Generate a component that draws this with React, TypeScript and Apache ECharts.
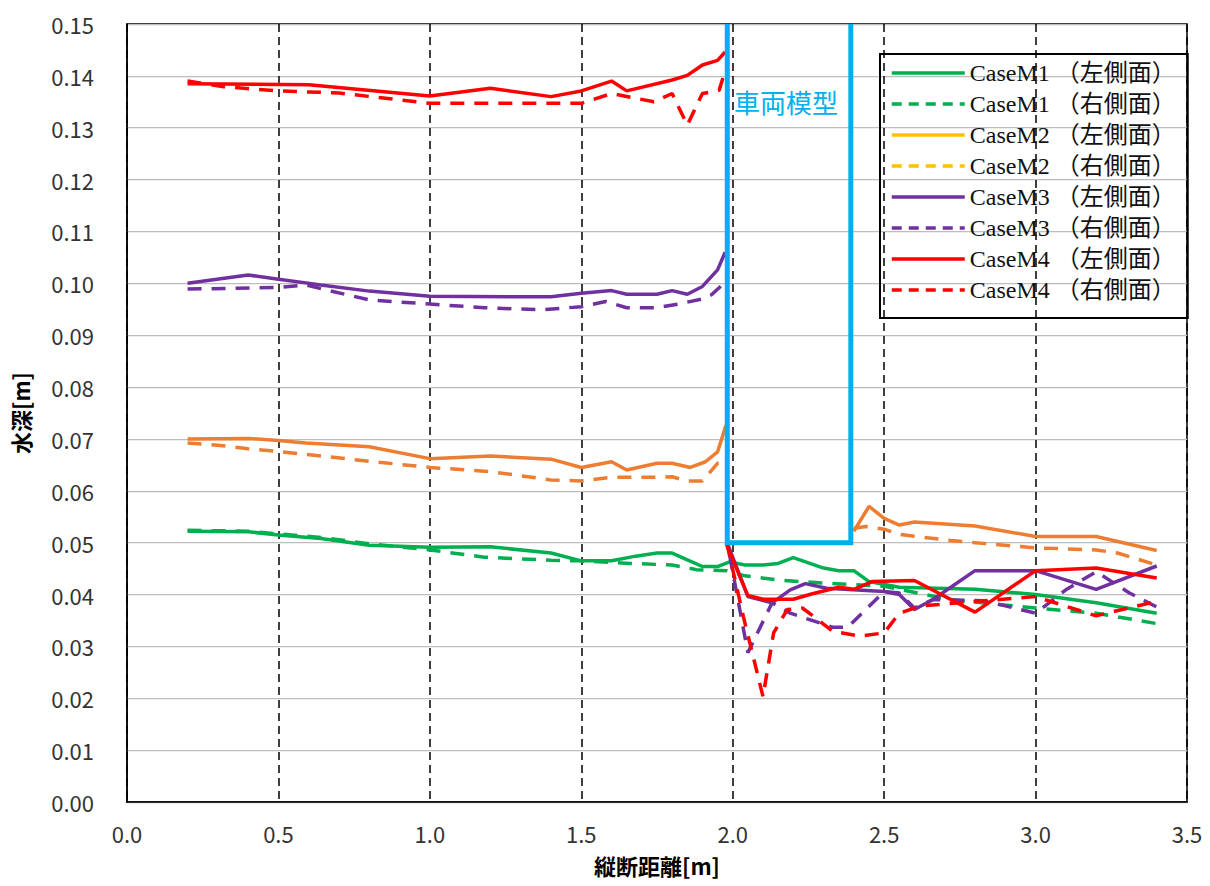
import React, { useEffect, useRef } from "react";
import * as echarts from "echarts";

// ---- data ----
const xTicks = [0, 0.5, 1.0, 1.5, 2.0, 2.5, 3.0, 3.5];

const seriesNames = [
  "CaseM1 （左側面）",
  "CaseM1 （右側面）",
  "CaseM2 （左側面）",
  "CaseM2 （右側面）",
  "CaseM3 （左側面）",
  "CaseM3 （右側面）",
  "CaseM4 （左側面）",
  "CaseM4 （右側面）",
];

const m1LeftX = [0.2, 0.4, 0.5, 0.64, 0.8, 1.0, 1.2, 1.4, 1.5, 1.6, 1.68, 1.75, 1.8, 1.85, 1.9, 1.95, 1.99, 2.04, 2.1, 2.15, 2.2, 2.3, 2.35, 2.4, 2.45, 2.55, 2.8, 3.0, 3.2, 3.4];
const m1LeftY = [0.0522, 0.0521, 0.0515, 0.0508, 0.0495, 0.0491, 0.0492, 0.048, 0.0465, 0.0465, 0.0474, 0.048, 0.048, 0.0467, 0.0454, 0.0454, 0.0463, 0.0457, 0.0457, 0.046, 0.0471, 0.0451, 0.0446, 0.0446, 0.0425, 0.0414, 0.041, 0.04, 0.0384, 0.0364];

const m1RightX = [0.2, 0.4, 0.64, 0.8, 1.0, 1.18, 1.4, 1.5, 1.66, 1.8, 1.88, 1.98, 2.04, 2.15, 2.3, 2.5, 2.72, 3.0, 3.2, 3.4];
const m1RightY = [0.0524, 0.0522, 0.051, 0.0498, 0.0486, 0.0472, 0.0466, 0.0465, 0.046, 0.0457, 0.0448, 0.0446, 0.0436, 0.0428, 0.0422, 0.0416, 0.039, 0.0374, 0.0364, 0.0344];

const m2LeftX = [0.2, 0.4, 0.5, 0.59, 0.8, 1.0, 1.2, 1.4, 1.5, 1.6, 1.65, 1.75, 1.8, 1.86, 1.91, 1.95, 1.978, 1.99, 2.4, 2.45, 2.5, 2.55, 2.6, 2.8, 3.0, 3.2, 3.4];
const m2LeftY = [0.07, 0.0701, 0.0697, 0.0692, 0.0685, 0.0662, 0.0667, 0.0661, 0.0645, 0.0656, 0.064, 0.0653, 0.0653, 0.0645, 0.0656, 0.0675, 0.0727, null, 0.0522, 0.057, 0.0547, 0.0534, 0.054, 0.0532, 0.0512, 0.0512, 0.0485];

const m2RightX = [0.2, 0.3, 0.4, 0.5, 0.8, 1.0, 1.2, 1.4, 1.5, 1.6, 1.75, 1.8, 1.85, 1.9, 1.95, 1.975, 1.99, 2.4, 2.44, 2.5, 2.55, 2.72, 3.0, 3.2, 3.27, 3.4];
const m2RightY = [0.0692, 0.0688, 0.0681, 0.0676, 0.0657, 0.0645, 0.0637, 0.0621, 0.0619, 0.0626, 0.0626, 0.0627, 0.0619, 0.0619, 0.0653, 0.0656, null, 0.0528, 0.0531, 0.0526, 0.0516, 0.0504, 0.049, 0.0486, 0.048, 0.0457];

const m3LeftX = [0.2, 0.4, 0.5, 0.64, 0.8, 1.0, 1.4, 1.5, 1.6, 1.65, 1.75, 1.8, 1.85, 1.9, 1.95, 1.975, 1.98, 1.985, 2.05, 2.13, 2.19, 2.24, 2.31, 2.5, 2.55, 2.6, 2.66, 2.8, 3.0, 3.2, 3.4];
const m3LeftY = [0.1, 0.1016, 0.1008, 0.0997, 0.0985, 0.0975, 0.0974, 0.0981, 0.0986, 0.0979, 0.0979, 0.0986, 0.0979, 0.0994, 0.1026, 0.106, null, 0.0495, 0.0396, 0.0384, 0.0409, 0.0421, 0.0412, 0.0406, 0.04, 0.0371, 0.039, 0.0446, 0.0446, 0.041, 0.0455];

const m3RightX = [0.2, 0.5, 0.59, 0.66, 0.8, 1.0, 1.18, 1.37, 1.5, 1.58, 1.65, 1.75, 1.82, 1.9, 1.93, 1.975, 1.98, 1.99, 2.05, 2.13, 2.19, 2.33, 2.38, 2.5, 2.55, 2.6, 2.66, 2.83, 3.0, 3.1, 3.2, 3.31, 3.4];
const m3RightY = [0.0989, 0.0992, 0.0997, 0.0987, 0.0968, 0.096, 0.0953, 0.0949, 0.0955, 0.0965, 0.0953, 0.0953, 0.096, 0.097, 0.0978, 0.1002, null, 0.0475, 0.0288, 0.0384, 0.0364, 0.0337, 0.0337, 0.0406, 0.0403, 0.0374, 0.039, 0.0388, 0.0364, 0.0409, 0.0444, 0.0403, 0.0376];

const m4LeftX = [0.2, 0.6, 1.0, 1.2, 1.4, 1.5, 1.6, 1.65, 1.8, 1.85, 1.9, 1.95, 1.975, 1.978, 1.98, 2.05, 2.1, 2.2, 2.26, 2.35, 2.4, 2.46, 2.6, 2.8, 3.0, 3.2, 3.4];
const m4LeftY = [0.1385, 0.1383, 0.1361, 0.1376, 0.136, 0.1371, 0.139, 0.1371, 0.1392, 0.1401, 0.1421, 0.143, 0.1446, null, 0.0496, 0.0398, 0.0391, 0.0391, 0.0401, 0.0414, 0.041, 0.0425, 0.0427, 0.0366, 0.0446, 0.0451, 0.0432];

const m4RightX = [0.2, 0.32, 0.5, 0.7, 1.0, 1.5, 1.6, 1.74, 1.8, 1.85, 1.9, 1.955, 1.97, 1.975, 1.98, 2.035, 2.1, 2.135, 2.18, 2.23, 2.28, 2.33, 2.42, 2.5, 2.55, 2.62, 3.0, 3.2, 3.4];
const m4RightY = [0.139, 0.1379, 0.1371, 0.1367, 0.1347, 0.1347, 0.1366, 0.135, 0.1366, 0.1305, 0.1366, 0.1372, 0.14, null, 0.05, 0.0358, 0.0203, 0.0326, 0.0371, 0.0374, 0.0352, 0.0329, 0.032, 0.0326, 0.0364, 0.0378, 0.0396, 0.0359, 0.0387];

// vehicle model outline (x, y in data units)
const boxX = [1.982, 1.982, 2.39, 2.39];
const boxY = [0.15, 0.05, 0.05, 0.15];
const boxLabel = "車両模型";

const seriesXs = [m1LeftX, m1RightX, m2LeftX, m2RightX, m3LeftX, m3RightX, m4LeftX, m4RightX];
const seriesYs = [m1LeftY, m1RightY, m2LeftY, m2RightY, m3LeftY, m3RightY, m4LeftY, m4RightY];

// ---- styles ----
const lineColors = ["#00B050", "#00B050", "#ED7D31", "#ED7D31", "#7030A0", "#7030A0", "#FF0000", "#FF0000"];
const legendColors = ["#00B050", "#00B050", "#FFC000", "#FFC000", "#7030A0", "#7030A0", "#FF0000", "#FF0000"];
const dashed = [false, true, false, true, false, true, false, true];
const DASH = [14, 10];

const sansFont = "'Noto Sans CJK JP', 'Noto Sans', sans-serif";
const serifFont = "'Liberation Serif', 'Noto Sans CJK JP', serif";

function toPairs(xs: number[], ys: (number | null)[]) {
  return xs.map((x, i) => [x, ys[i] === null ? "-" : ys[i]]);
}

export default function App() {
  const ref = useRef<HTMLDivElement>(null);

  useEffect(() => {
    document.body.style.margin = "0";
    if (!ref.current) return;
    const chart = echarts.init(ref.current, undefined, { renderer: "svg" });

    const series: any[] = seriesNames.map((name, i) => ({
      name,
      type: "line",
      data: toPairs(seriesXs[i], seriesYs[i]),
      symbol: "none",
      showSymbol: false,
      connectNulls: false,
      lineStyle: {
        color: lineColors[i],
        width: 3.5,
        type: dashed[i] ? DASH : "solid",
        cap: "butt",
      },
      itemStyle: { color: lineColors[i] },
      z: 3 + i,
    }));

    series.push({
      name: "box",
      type: "line",
      data: boxX.map((x, i) => [x, boxY[i]]),
      symbol: "none",
      showSymbol: false,
      lineStyle: { color: "#00B0F0", width: 5, type: "solid", join: "miter" },
      itemStyle: { color: "#00B0F0" },
      z: 20,
      clip: false,
    });

    const option: any = {
      animation: false,
      backgroundColor: "#ffffff",
      grid: {
        left: 127,
        top: 24,
        right: 23,
        bottom: 84,
        show: true,
        borderColor: "#000",
        borderWidth: 1.5,
        backgroundColor: "transparent",
      },
      xAxis: {
        type: "value",
        min: xTicks[0],
        max: xTicks[xTicks.length - 1],
        interval: 0.5,
        name: "縦断距離[m]",
        nameLocation: "middle",
        nameGap: 52,
        nameTextStyle: { fontFamily: sansFont, fontSize: 22, fontWeight: "bold", color: "#000" },
        axisLine: { show: true, lineStyle: { color: "#000", width: 1.5 } },
        axisTick: { show: false },
        axisLabel: {
          formatter: (v: number) => v.toFixed(1),
          fontFamily: sansFont,
          fontSize: 22,
          color: "#333",
          margin: 20,
        },
        splitLine: { show: true, lineStyle: { color: "#000", width: 1.5, type: [8, 5] } },
      },
      yAxis: {
        type: "value",
        min: 0,
        max: 0.15,
        interval: 0.01,
        name: "水深[m]",
        nameLocation: "middle",
        nameGap: 96,
        nameRotate: 90,
        nameTextStyle: { fontFamily: sansFont, fontSize: 22, fontWeight: "bold", color: "#000" },
        axisLine: { show: true, lineStyle: { color: "#000", width: 1.5 } },
        axisTick: { show: false },
        axisLabel: {
          formatter: (v: number) => v.toFixed(2),
          fontFamily: sansFont,
          fontSize: 22,
          color: "#333",
          margin: 33,
        },
        splitLine: { show: true, lineStyle: { color: "#bdbdbd", width: 1.25 } },
      },
      legend: {
        orient: "vertical",
        left: 880,
        top: 54,
        padding: [7, 12, 16, 10],
        itemWidth: 73,
        itemHeight: 14,
        itemGap: 7,
        borderColor: "#000",
        borderWidth: 2,
        selectedMode: false,
        textStyle: { fontFamily: serifFont, fontSize: 24, lineHeight: 24, color: "#111" },
        data: seriesNames.map((name, i) => ({
          name,
          itemStyle: { color: "rgba(0,0,0,0)", borderWidth: 0, opacity: 0 },
          lineStyle: {
            color: legendColors[i],
            width: 3.5,
            type: dashed[i] ? [10, 7] : "solid",
          },
        })),
      },
      graphic: [
        {
          type: "text",
          left: 734,
          top: 88,
          z: 30,
          style: {
            text: boxLabel,
            fontFamily: sansFont,
            fontSize: 26,
            fill: "#00B0F0",
          },
        },
      ],
      series,
    };

    chart.setOption(option);
    return () => chart.dispose();
  }, []);

  return <div ref={ref} style={{ width: 1210, height: 886 }} />;
}
